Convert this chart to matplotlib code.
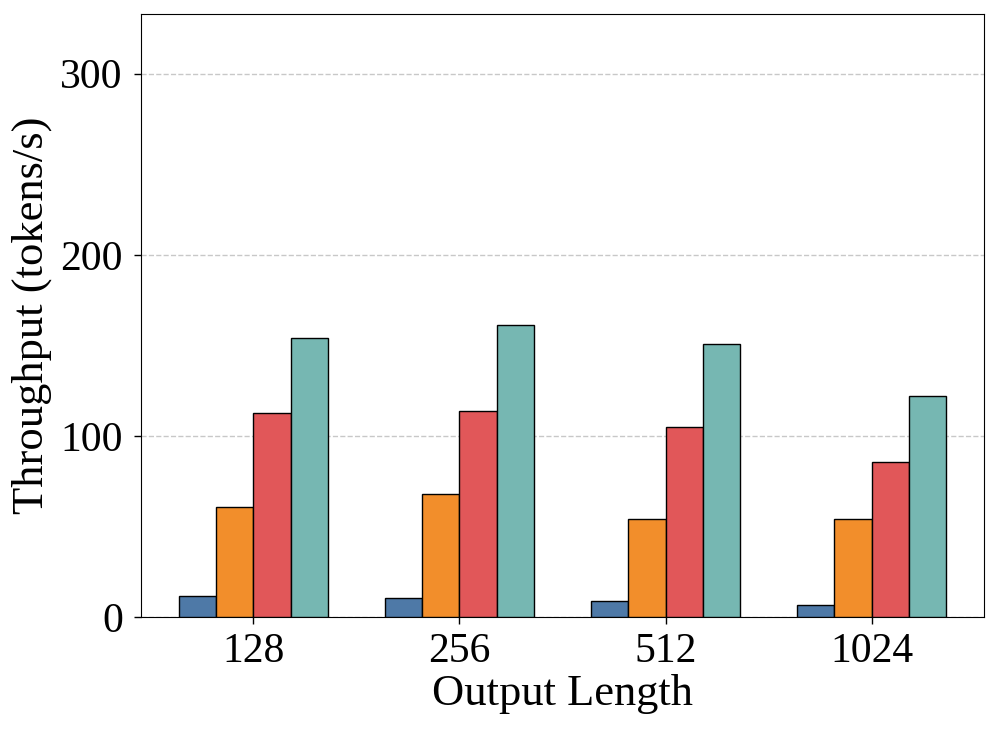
import numpy as np
import matplotlib.pyplot as plt

plt.rcParams['font.family'] = ['Liberation Serif', 'DejaVu Serif']

output_lengths = ['128', '256', '512', '1024']
series_names = ['Method A', 'Method B', 'Method C', 'Method D']
series_values = [
    [11.4, 10.5, 8.8, 6.9],
    [60.9, 67.8, 54.0, 54.3],
    [112.7, 113.8, 104.8, 85.5],
    [154.1, 161.3, 151.0, 122.1],
]
colors = ['#4e79a7', '#f28e2b', '#e15759', '#76b7b2']

fig = plt.figure(figsize=(9.97, 7.32), dpi=100)
ax = fig.add_axes([0.1414, 0.157, 0.987 - 0.1414, 0.981 - 0.157])

x = np.arange(len(output_lengths))
width = 0.18
n = len(series_values)
for i, (vals, name, c) in enumerate(zip(series_values, series_names, colors)):
    offset = (i - (n - 1) / 2) * width
    ax.bar(x + offset, vals, width, color=c, edgecolor='black', linewidth=1.0,
           label=name, zorder=3)

ax.set_xticks(x)
ax.set_xticklabels(output_lengths)
ax.set_yticks([0, 100, 200, 300])
ax.set_ylim(0, 333)
ax.tick_params(axis='both', labelsize=30, length=5, width=1)
ax.tick_params(axis='y', pad=8)
ax.tick_params(axis='x', pad=6)
ax.set_xlabel('Output Length', fontsize=32, labelpad=2)
ax.set_ylabel('Throughput (tokens/s)', fontsize=32, labelpad=6)
ax.yaxis.grid(True, linestyle='--', color='#bbbbbb', linewidth=1, alpha=0.8, zorder=0)
ax.set_axisbelow(True)

plt.savefig('out.png', dpi=100)
